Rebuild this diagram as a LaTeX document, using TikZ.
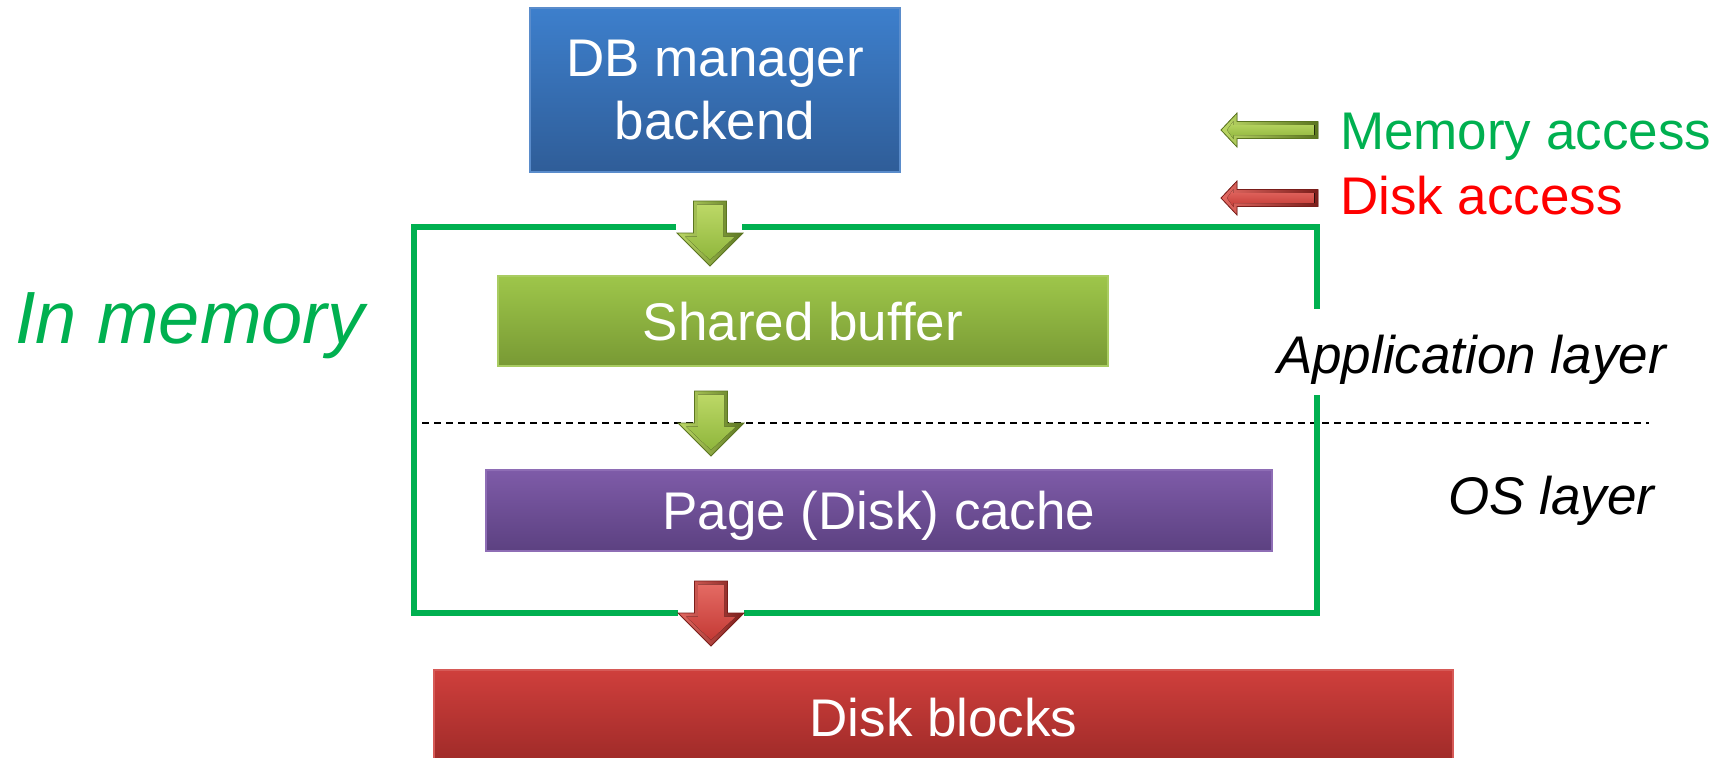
\documentclass[tikz,border=0pt]{standalone}
\usepackage{fontspec}
\setmainfont{Liberation Sans}
\usetikzlibrary{calc}

\definecolor{frameGreen}{HTML}{00B050}
\definecolor{diskRed}{HTML}{FF0000}
\definecolor{dbTop}{HTML}{3D7FCC}
\definecolor{dbBot}{HTML}{2F5D98}
\definecolor{dbLine}{HTML}{5A8CCB}
\definecolor{sbTop}{HTML}{9EC64A}
\definecolor{sbBot}{HTML}{789934}
\definecolor{sbLine}{HTML}{A9CC62}
\definecolor{pcTop}{HTML}{7E5BA8}
\definecolor{pcBot}{HTML}{5C4181}
\definecolor{pcLine}{HTML}{8E6DB5}
\definecolor{dkTop}{HTML}{CF3F3C}
\definecolor{dkBot}{HTML}{9E2A28}
\definecolor{dkLine}{HTML}{D65A57}
\definecolor{gArrLight}{HTML}{BCD866}
\definecolor{gArrMid}{HTML}{8FB63C}
\definecolor{gArrDark}{HTML}{5B7520}
\definecolor{rArrLight}{HTML}{E46A63}
\definecolor{rArrMid}{HTML}{C43A35}
\definecolor{rArrDark}{HTML}{7A1D1A}

% bevelled block arrow, drawn pointing along local +y (down the page)
% #1 origin (back end, centre)  #2 rotation  #3 shaft half width
% #4 head half width  #5 shaft length  #6 total length
% #7 light colour  #8 mid colour  #9 dark colour
\newcommand{\blockarrow}[9]{%
  \begin{scope}[shift={#1}, rotate=#2]
    \fill[left color=#7, right color=#9, draw=#9, line width=0.4pt]
      (-#3,0) -- (#3,0) -- (#3,#5) -- (#4,#5) -- (0,#6)
      -- (-#4,#5) -- (-#3,#5) -- cycle;
    \fill[top color=#7, bottom color=#8]
      ({-#3+3.5},3.5) -- ({#3-3.5},3.5) -- ({#3-3.5},{#5+3.5})
      -- ({#4-8},{#5+3.5}) -- (0,{#6-6}) -- ({-#4+8},{#5+3.5})
      -- ({-#3+3.5},{#5+3.5}) -- cycle;
  \end{scope}}

\begin{document}
\begin{tikzpicture}[x=0.5pt, y=-0.5pt,
  every node/.style={inner sep=0pt, outer sep=0pt},
  boxtext/.style={text=white, font=\fontsize{26.5}{31.5}\selectfont,
    align=center},
  layerbox/.style={rectangle, line width=0.6pt, boxtext},
  sidetext/.style={anchor=base west, font=\fontsize{26.5}{31.5}\selectfont\itshape},
  legendtext/.style={anchor=base west, font=\fontsize{26.5}{31.5}\selectfont},
  memframe/.style={draw=frameGreen, line width=3pt},
  layersplit/.style={draw=black, line width=1pt, dash pattern=on 3.5pt off 2.5pt}]

\useasboundingbox (0,0) rectangle (1728,757);

% boxes of the storage hierarchy
\node[layerbox, top color=dbTop, bottom color=dbBot, draw=dbLine,
      minimum width=185pt, minimum height=82pt] (db) at (715,90)
      {DB manager\\backend};
\node[layerbox, top color=sbTop, bottom color=sbBot, draw=sbLine,
      minimum width=305pt, minimum height=45pt, text height=19pt, text depth=0pt]
      (sb) at (803,321) {Shared buffer};
\node[layerbox, top color=pcTop, bottom color=pcBot, draw=pcLine,
      minimum width=393pt, minimum height=40.5pt, text height=19pt, text depth=0pt]
      (pc) at (879,510.5) {Page (Disk) cache};
\node[layerbox, top color=dkTop, bottom color=dkBot, draw=dkLine,
      minimum width=509.5pt, minimum height=47pt, text height=19pt, text depth=0pt]
      (dk) at (943.5,717) {Disk blocks};

% boundary between application and OS layer
\coordinate (splitL) at (422,423);
\coordinate (splitR) at (1649,423);
\draw[layersplit] (splitL) -- (splitR);

% in-memory frame, broken where arrows and labels cross it
\coordinate (fTL) at (414,227);
\coordinate (fTR) at (1317,227);
\coordinate (fBL) at (414,613);
\coordinate (fBR) at (1317,613);
\draw[memframe] (676,227) -- (fTL) -- (fBL) -- (678,613);
\draw[memframe] (742,227) -- (fTR) -- (1317,309);
\draw[memframe] (1317,395) -- (fBR) -- (744,613);

% access arrows between the levels
\blockarrow{(710,201)}{0}{16.5}{33}{32}{65}{gArrLight}{gArrMid}{gArrDark}
\blockarrow{(711,391)}{0}{16.5}{33}{32}{65}{gArrLight}{gArrMid}{gArrDark}
\blockarrow{(711,581)}{0}{16.5}{33}{32}{65}{rArrLight}{rArrMid}{rArrDark}

% legend
\blockarrow{(1318,130)}{-90}{8.5}{17}{81}{97}{gArrLight}{gArrMid}{gArrDark}
\blockarrow{(1318,198)}{-90}{8.5}{17}{81}{97}{rArrLight}{rArrMid}{rArrDark}
\node[legendtext, text=frameGreen] (lmem) at (1340,149) {Memory access};
\node[legendtext, text=diskRed] (ldisk) at (1340,214) {Disk access};

% side labels
\node[anchor=base west, text=frameGreen, font=\fontsize{37}{44}\selectfont\itshape]
  (inmem) at (15,343) {In memory};
\node[sidetext] (applayer) at (1277,373) {Application layer};
\node[sidetext] (oslayer) at (1448,514) {OS layer};

\end{tikzpicture}
\end{document}
